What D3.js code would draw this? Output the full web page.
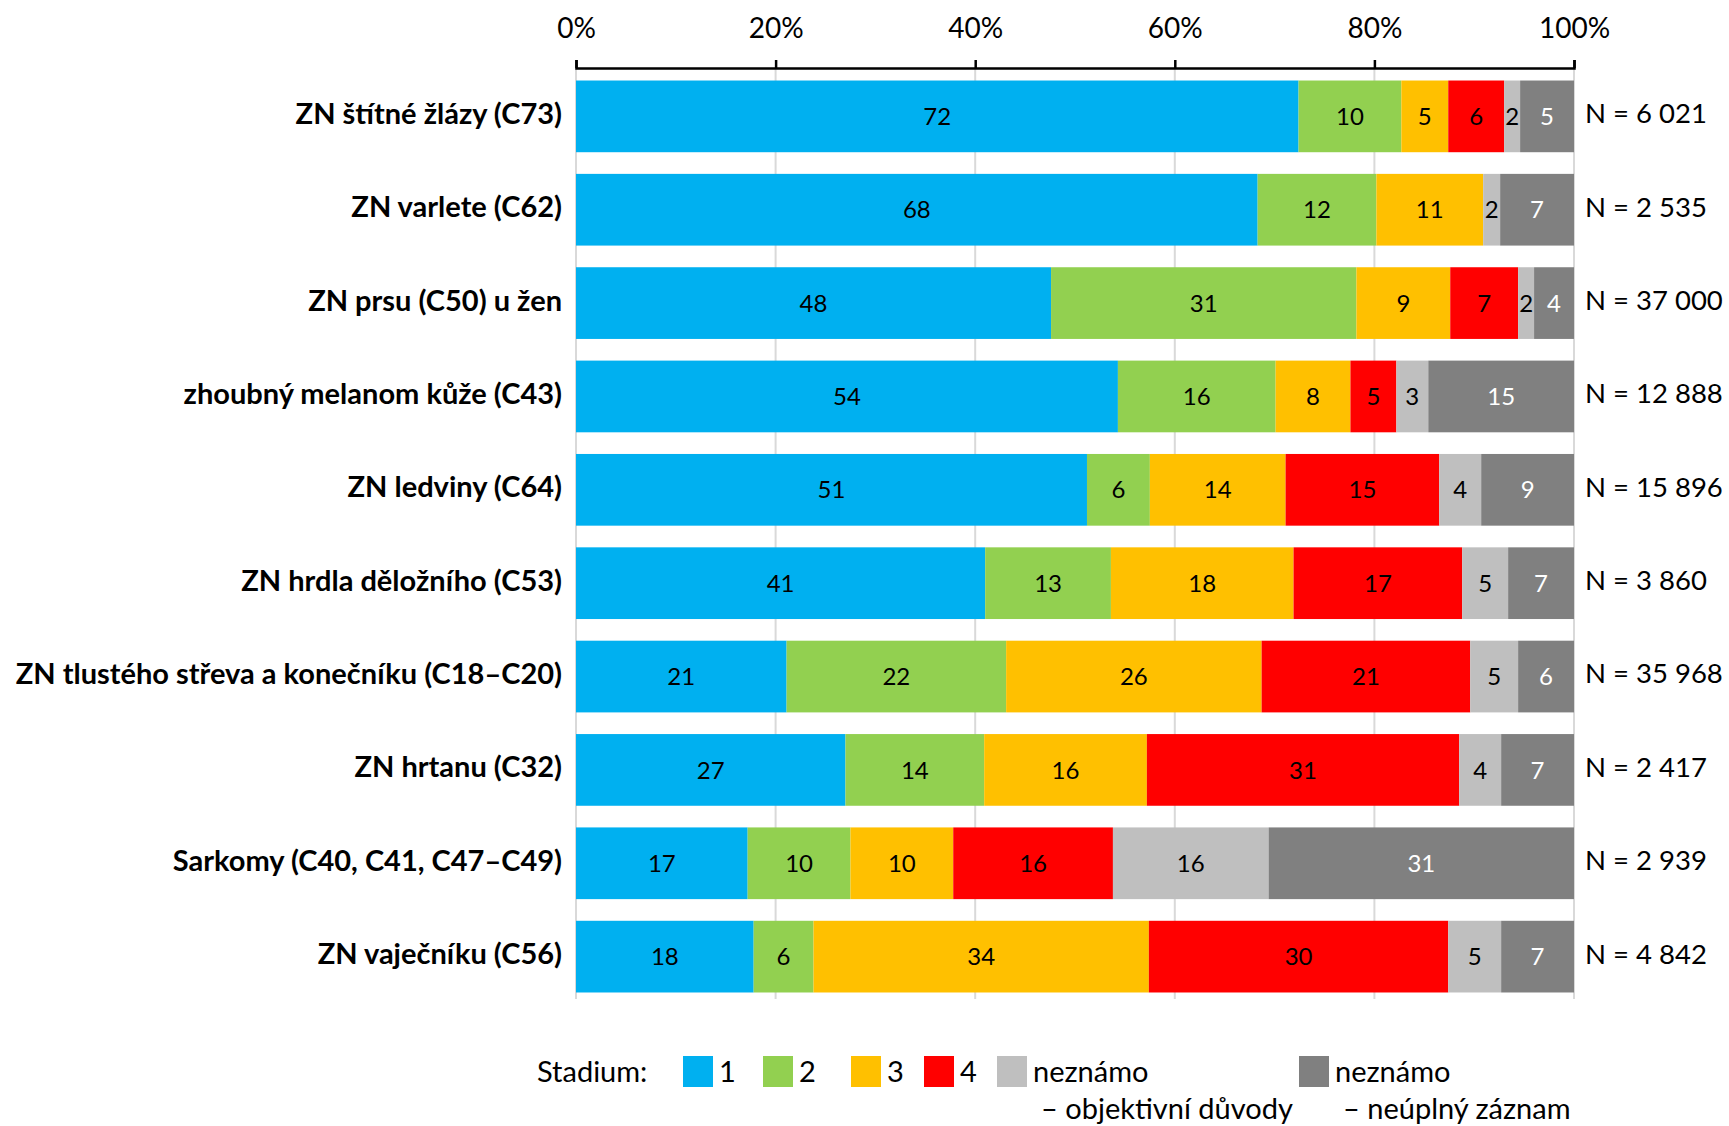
<!DOCTYPE html>
<html>
<head>
<meta charset="utf-8">
<script src="https://cdn.jsdelivr.net/npm/d3@7"></script>
<style>
  body { margin: 0; background: #fff; }
  svg { display: block; font-family: Lato, "Open Sans", sans-serif; }
</style>
</head>
<body>
<div id="chartDiv"></div>
<script>
// categories (top to bottom)
var categories = [
    "ZN štítné žlázy (C73)",
    "ZN varlete (C62)",
    "ZN prsu (C50) u žen",
    "zhoubný melanom kůže (C43)",
    "ZN ledviny (C64)",
    "ZN hrdla děložního (C53)",
    "ZN tlustého střeva a konečníku (C18–C20)",
    "ZN hrtanu (C32)",
    "Sarkomy (C40, C41, C47–C49)",
    "ZN vaječníku (C56)"
];
// share of patients by stage, %
var stage1 = [72.4, 68.3, 47.6, 54.3, 51.2, 41.0, 21.1, 27.0, 17.2, 17.8];
var stage2 = [10.3, 11.9, 30.6, 15.8, 6.3, 12.6, 22.0, 13.9, 10.3, 6.0];
var stage3 = [4.7, 10.7, 9.4, 7.5, 13.6, 18.3, 25.6, 16.3, 10.3, 33.6];
var stage4 = [5.6, 0, 6.8, 4.6, 15.4, 16.9, 20.9, 31.3, 16.0, 30.0];
var unknownObj = [1.6, 1.7, 1.6, 3.2, 4.2, 4.6, 4.8, 4.2, 15.6, 5.3];
var unknownInc = [5.4, 7.4, 4.0, 14.6, 9.3, 6.6, 5.6, 7.3, 30.6, 7.3];
var nLabels = ["N = 6 021", "N = 2 535", "N = 37 000", "N = 12 888", "N = 15 896",
    "N = 3 860", "N = 35 968", "N = 2 417", "N = 2 939", "N = 4 842"];
var tickValues = [0, 20, 40, 60, 80, 100];

var seriesKeys = ["s1", "s2", "s3", "s4", "u1", "u2"];
var seriesColors = ["#00B0F0", "#92D050", "#FFC000", "#FF0000", "#BFBFBF", "#808080"];
var seriesText = ["#000", "#000", "#000", "#000", "#000", "#fff"];

var rows = categories.map(function (c, i) {
    return { cat: c, s1: stage1[i], s2: stage2[i], s3: stage3[i], s4: stage4[i],
        u1: unknownObj[i], u2: unknownInc[i], n: nLabels[i] };
});

var width = 1729, height = 1126;
var svg = d3.select("#chartDiv").append("svg")
    .attr("width", width)
    .attr("height", height);

var x = d3.scaleLinear().domain([0, 100]).range([576, 1574]);
var y = d3.scaleBand().domain(categories).range([68, 1005])
    .paddingInner(0.232).paddingOuter(0.134);

// gridlines
svg.append("g").selectAll("line")
    .data(tickValues)
    .enter().append("line")
    .attr("x1", function (d) { return x(d); })
    .attr("x2", function (d) { return x(d); })
    .attr("y1", 68)
    .attr("y2", 999)
    .style("stroke", "#d9d9d9")
    .style("stroke-width", 2);

var stack = d3.stack().keys(seriesKeys);
var layers = stack(rows);

var layer = svg.append("g").selectAll("g")
    .data(layers)
    .enter().append("g")
    .attr("fill", function (d, i) { return seriesColors[i]; });

layer.selectAll("rect")
    .data(function (d) { return d; })
    .enter().append("rect")
    .attr("x", function (d) { return x(d[0]); })
    .attr("y", function (d) { return y(d.data.cat); })
    .attr("width", function (d) { return x(d[1]) - x(d[0]); })
    .attr("height", y.bandwidth());

// value labels inside segments
layers.forEach(function (l, i) {
    svg.append("g").selectAll("text")
        .data(l.filter(function (d) { return d[1] - d[0] > 0.5; }))
        .enter().append("text")
        .attr("x", function (d) { return (x(d[0]) + x(d[1])) / 2; })
        .attr("y", function (d) { return y(d.data.cat) + y.bandwidth() / 2; })
        .attr("dy", "0.36em")
        .attr("text-anchor", "middle")
        .style("font-size", "24px")
        .style("fill", seriesText[i])
        .text(function (d) { return d3.format(".0f")(d[1] - d[0]); });
});

// top axis
var axis = svg.append("g")
    .attr("transform", "translate(0,68)")
    .call(d3.axisTop(x).tickValues(tickValues).tickSize(8)
        .tickFormat(function (d) { return d + "%"; }));
axis.select(".domain").style("stroke-width", 2.5);
axis.selectAll(".tick line").style("stroke-width", 2.5);
axis.selectAll(".tick text")
    .attr("y", -30)
    .style("font-size", "28px")
    .style("font-family", "Lato, sans-serif")
    .style("fill", "#000");

// category labels
svg.append("g").selectAll("text")
    .data(rows)
    .enter().append("text")
    .attr("x", 562)
    .attr("y", function (d) { return y(d.cat) + y.bandwidth() / 2 - 3; })
    .attr("dy", "0.36em")
    .attr("text-anchor", "end")
    .style("font-size", "29px")
    .style("font-weight", "bold")
    .text(function (d) { return d.cat; });

// N labels
svg.append("g").selectAll("text")
    .data(rows)
    .enter().append("text")
    .attr("x", 1585)
    .attr("y", function (d) { return y(d.cat) + y.bandwidth() / 2 - 3; })
    .attr("dy", "0.36em")
    .style("font-size", "27.5px")
    .text(function (d) { return d.n; });

// legend
var legendItems = [
    { x: 683, label: ["1"] },
    { x: 763, label: ["2"] },
    { x: 851, label: ["3"] },
    { x: 924, label: ["4"] },
    { x: 997, label: ["neznámo", "– objektivní důvody"] },
    { x: 1299, label: ["neznámo", "– neúplný záznam"] }
];
var legend = svg.append("g");
legend.append("text")
    .attr("x", 537)
    .attr("y", 1082)
    .style("font-size", "29px")
    .text("Stadium:");
legendItems.forEach(function (item, i) {
    legend.append("rect")
        .attr("x", item.x)
        .attr("y", 1056)
        .attr("width", 30)
        .attr("height", 31)
        .attr("fill", seriesColors[i]);
    legend.append("text")
        .attr("x", item.x + 36)
        .attr("y", 1082)
        .style("font-size", "29px")
        .text(item.label[0]);
    if (item.label[1]) {
        legend.append("text")
            .attr("x", item.x + 44)
            .attr("y", 1119)
            .style("font-size", "29px")
            .text(item.label[1]);
    }
});
</script>
</body>
</html>
